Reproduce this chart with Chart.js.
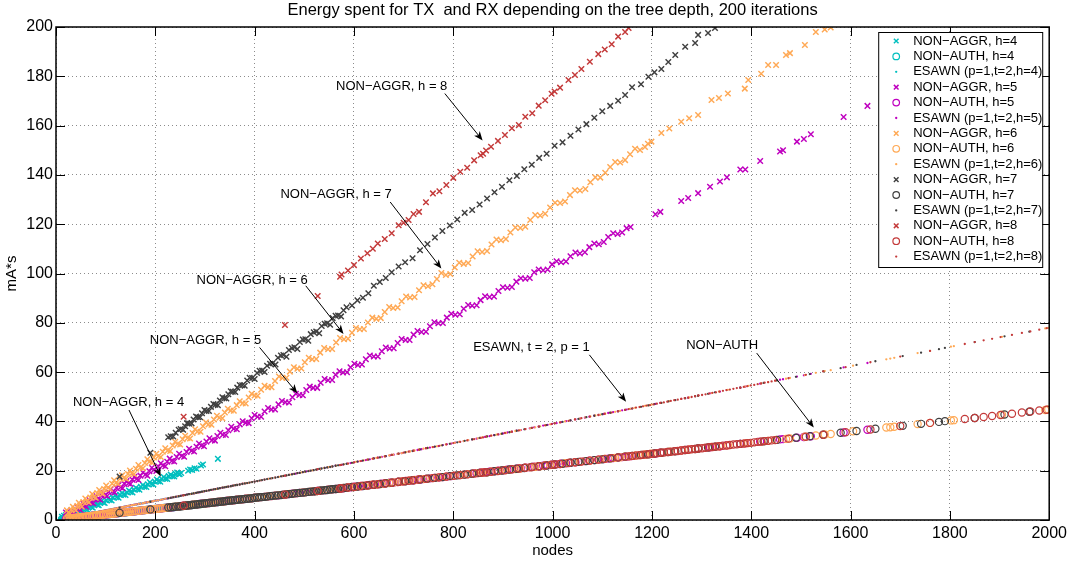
<!DOCTYPE html>
<html>
<head>
<meta charset="utf-8">
<title>Energy per tree depth</title>
<script src="https://cdn.jsdelivr.net/npm/chart.js@4.4.1/dist/chart.umd.min.js"></script>
<style>
  html, body { margin: 0; padding: 0; background: #fff; }
  #energy { display: block; }
</style>
</head>
<body>
<canvas id="energy" width="1071" height="562"></canvas>
<script>
// node counts per run, and energy (mA*s) for the three schemes, one block per tree depth h
// NON-AGGR runs above 200 mA*s fall outside the axes and are kept as null

const nodes4 = [12, 14, 16, 18, 20, 23, 26, 29, 32, 34,
  36, 38, 40, 42, 44, 46, 48, 50, 53, 55,
  58, 60, 63, 65, 68, 71, 74, 77, 80, 83,
  86, 89, 92, 95, 98, 101, 105, 108, 112, 115,
  119, 122, 126, 129, 133, 136, 140, 143, 147, 150,
  154, 157, 161, 164, 168, 171, 175, 178, 182, 185,
  189, 192, 196, 199, 203, 206, 210, 213, 217, 220,
  224, 227, 231, 234, 238, 241, 244, 247, 249, 252,
  266, 270, 274, 279, 283, 292, 296, 326];
const nonAggr4 = [1.3, 0.6, 1.7, 0.9, 2.0, 1.2, 2.5, 1.7, 3.0, 2.5,
  2.2, 3.1, 3.6, 3.1, 2.8, 3.7, 4.3, 3.7, 3.5, 4.4,
  5.0, 4.4, 4.2, 5.2, 5.9, 5.3, 5.0, 6.1, 6.8, 6.2,
  6.0, 7.0, 7.8, 7.1, 6.9, 8.0, 8.8, 8.1, 7.9, 9.1,
  9.9, 9.2, 9.0, 10.2, 11.0, 10.3, 10.1, 11.3, 12.0, 11.4,
  11.2, 12.4, 13.1, 12.5, 12.3, 13.5, 14.2, 13.5, 13.4, 14.5,
  15.3, 14.6, 14.4, 15.6, 16.4, 15.7, 15.5, 16.7, 17.4, 16.7,
  16.6, 17.8, 18.4, 17.8, 17.7, 18.8, 19.3, 18.7, 18.6, 19.1,
  20.0, 20.5, 20.3, 21.0, 20.8, 22.1, 22.5, 24.8];
const nonAuth4 = [0.3, 0.3, 0.4, 0.4, 0.4, 0.5, 0.6, 0.6, 0.7, 0.8,
  0.8, 0.9, 0.9, 0.9, 1.0, 1.0, 1.1, 1.1, 1.2, 1.2,
  1.3, 1.3, 1.4, 1.5, 1.5, 1.6, 1.7, 1.7, 1.8, 1.9,
  1.9, 2.0, 2.1, 2.1, 2.2, 2.3, 2.4, 2.4, 2.5, 2.6,
  2.7, 2.7, 2.8, 2.9, 3.0, 3.0, 3.1, 3.2, 3.3, 3.4,
  3.4, 3.5, 3.6, 3.7, 3.8, 3.8, 3.9, 4.0, 4.1, 4.1,
  4.2, 4.3, 4.4, 4.5, 4.5, 4.6, 4.7, 4.8, 4.9, 4.9,
  5.0, 5.1, 5.2, 5.2, 5.3, 5.4, 5.5, 5.5, 5.6, 5.6,
  6.0, 6.0, 6.1, 6.2, 6.3, 6.5, 6.6, 7.3];
const esawn4 = [0.5, 0.5, 0.6, 0.7, 0.8, 0.9, 1.0, 1.1, 1.2, 1.3,
  1.4, 1.5, 1.6, 1.6, 1.7, 1.8, 1.9, 2.0, 2.1, 2.1,
  2.3, 2.3, 2.5, 2.5, 2.7, 2.8, 2.9, 3.0, 3.1, 3.2,
  3.4, 3.5, 3.6, 3.7, 3.8, 3.9, 4.1, 4.2, 4.4, 4.5,
  4.6, 4.8, 4.9, 5.0, 5.2, 5.3, 5.5, 5.6, 5.7, 5.9,
  6.0, 6.1, 6.3, 6.4, 6.6, 6.7, 6.8, 6.9, 7.1, 7.2,
  7.4, 7.5, 7.6, 7.8, 7.9, 8.0, 8.2, 8.3, 8.5, 8.6,
  8.7, 8.9, 9.0, 9.1, 9.3, 9.4, 9.5, 9.6, 9.7, 9.8,
  10.4, 10.5, 10.7, 10.9, 11.0, 11.4, 11.5, 12.7];

const nodes5 = [20, 23, 26, 28, 31, 34, 37, 40, 43, 46,
  49, 52, 55, 58, 61, 64, 68, 71, 75, 78,
  82, 85, 89, 92, 96, 99, 103, 106, 110, 114,
  118, 122, 126, 130, 134, 138, 142, 146, 150, 154,
  158, 162, 166, 170, 175, 180, 184, 188, 193, 197,
  202, 206, 211, 215, 220, 224, 229, 233, 238, 243,
  248, 253, 258, 263, 268, 273, 278, 283, 288, 293,
  298, 303, 309, 314, 320, 325, 331, 336, 342, 347,
  353, 358, 364, 370, 376, 382, 388, 394, 400, 406,
  413, 420, 427, 434, 441, 448, 455, 462, 469, 476,
  483, 490, 497, 504, 511, 518, 526, 533, 541, 548,
  556, 563, 571, 578, 586, 593, 601, 608, 616, 624,
  632, 640, 648, 656, 664, 672, 680, 688, 696, 704,
  712, 720, 728, 736, 745, 753, 762, 770, 779, 787,
  796, 804, 813, 821, 830, 838, 847, 855, 864, 873,
  882, 891, 900, 909, 918, 927, 936, 945, 954, 963,
  972, 981, 990, 999, 1008, 1017, 1027, 1036, 1046, 1055,
  1065, 1074, 1084, 1093, 1103, 1112, 1122, 1131, 1140, 1149,
  1157, 1207, 1217, 1259, 1273, 1293, 1317, 1337, 1351, 1378,
  1388, 1418, 1458, 1464, 1492, 1506, 1520, 1586, 1634];
const nonAggr5 = [3.0, 2.2, 1.9, 3.3, 3.9, 3.2, 2.8, 4.4, 5.4, 4.6,
  4.1, 5.7, 6.6, 5.8, 5.4, 7.0, 8.0, 7.1, 6.8, 8.4,
  9.6, 8.6, 8.2, 9.9, 11.0, 10.1, 9.7, 11.4, 12.5, 11.6,
  11.2, 13.0, 14.2, 13.3, 12.9, 14.6, 15.8, 14.9, 14.6, 16.3,
  17.5, 16.6, 16.2, 18.0, 19.3, 18.5, 18.0, 19.8, 21.2, 20.3,
  19.9, 21.7, 23.0, 22.1, 21.8, 23.6, 24.9, 23.9, 23.7, 25.6,
  26.9, 26.0, 25.7, 27.6, 28.9, 28.1, 27.8, 29.7, 31.0, 30.2,
  29.9, 31.8, 33.2, 32.4, 32.2, 34.1, 35.4, 34.6, 34.5, 36.4,
  37.8, 37.0, 36.8, 38.8, 40.1, 39.5, 39.3, 41.3, 42.6, 41.9,
  41.9, 44.0, 45.4, 44.8, 44.8, 46.9, 48.3, 47.8, 47.7, 49.8,
  51.2, 50.7, 50.6, 52.7, 54.1, 53.6, 53.6, 55.7, 57.2, 56.7,
  56.8, 58.9, 60.3, 59.8, 59.9, 62.0, 63.4, 62.9, 63.1, 65.2,
  66.7, 66.3, 66.3, 68.5, 70.0, 69.6, 69.7, 71.8, 73.4, 73.0,
  73.0, 75.2, 76.7, 76.3, 76.4, 78.6, 80.2, 79.8, 79.9, 82.1,
  83.7, 83.3, 83.5, 85.7, 87.2, 86.9, 87.1, 89.2, 90.8, 90.5,
  90.7, 92.9, 94.4, 94.2, 94.5, 96.7, 98.1, 97.9, 98.2, 100.5,
  101.6, 101.3, 101.6, 103.7, 105.0, 104.6, 104.9, 107.0, 108.5, 108.1,
  108.6, 110.7, 112.2, 111.9, 112.8, 114.8, 116.3, 116.0, 116.6, 118.4,
  118.9, 124.0, 125.0, 129.4, 130.6, 132.6, 135.2, 137.3, 139.0, 142.2,
  142.2, 145.6, 149.5, 150.0, 153.5, 154.6, 156.5, 163.5, 168.0];
const nonAuth5 = [0.4, 0.5, 0.6, 0.6, 0.7, 0.8, 0.8, 0.9, 1.0, 1.0,
  1.1, 1.2, 1.2, 1.3, 1.4, 1.4, 1.5, 1.6, 1.7, 1.7,
  1.8, 1.9, 2.0, 2.1, 2.2, 2.2, 2.3, 2.4, 2.5, 2.6,
  2.6, 2.7, 2.8, 2.9, 3.0, 3.1, 3.2, 3.3, 3.4, 3.4,
  3.5, 3.6, 3.7, 3.8, 3.9, 4.0, 4.1, 4.2, 4.3, 4.4,
  4.5, 4.6, 4.7, 4.8, 4.9, 5.0, 5.1, 5.2, 5.3, 5.4,
  5.6, 5.7, 5.8, 5.9, 6.0, 6.1, 6.2, 6.3, 6.5, 6.6,
  6.7, 6.8, 6.9, 7.0, 7.2, 7.3, 7.4, 7.5, 7.7, 7.8,
  7.9, 8.0, 8.2, 8.3, 8.4, 8.6, 8.7, 8.8, 9.0, 9.1,
  9.3, 9.4, 9.6, 9.7, 9.9, 10.0, 10.2, 10.3, 10.5, 10.7,
  10.8, 11.0, 11.1, 11.3, 11.4, 11.6, 11.8, 11.9, 12.1, 12.3,
  12.5, 12.6, 12.8, 12.9, 13.1, 13.3, 13.5, 13.6, 13.8, 14.0,
  14.2, 14.3, 14.5, 14.7, 14.9, 15.1, 15.2, 15.4, 15.6, 15.8,
  15.9, 16.1, 16.3, 16.5, 16.7, 16.9, 17.1, 17.2, 17.4, 17.6,
  17.8, 18.0, 18.2, 18.4, 18.6, 18.8, 19.0, 19.2, 19.4, 19.6,
  19.8, 20.0, 20.2, 20.4, 20.6, 20.8, 21.0, 21.2, 21.4, 21.6,
  21.8, 22.0, 22.2, 22.4, 22.6, 22.8, 23.0, 23.2, 23.4, 23.6,
  23.9, 24.1, 24.3, 24.5, 24.7, 24.9, 25.1, 25.3, 25.5, 25.7,
  25.9, 27.0, 27.3, 28.2, 28.5, 29.0, 29.5, 29.9, 30.3, 30.9,
  31.1, 31.8, 32.7, 32.8, 33.4, 33.7, 34.0, 35.5, 36.6];
const esawn5 = [0.8, 0.9, 1.0, 1.1, 1.2, 1.3, 1.4, 1.6, 1.7, 1.8,
  1.9, 2.0, 2.1, 2.3, 2.4, 2.5, 2.7, 2.8, 2.9, 3.0,
  3.2, 3.3, 3.5, 3.6, 3.7, 3.9, 4.0, 4.1, 4.3, 4.4,
  4.6, 4.8, 4.9, 5.1, 5.2, 5.4, 5.5, 5.7, 5.9, 6.0,
  6.2, 6.3, 6.5, 6.6, 6.8, 7.0, 7.2, 7.3, 7.5, 7.7,
  7.9, 8.0, 8.2, 8.4, 8.6, 8.7, 8.9, 9.1, 9.3, 9.5,
  9.7, 9.9, 10.1, 10.3, 10.5, 10.6, 10.8, 11.0, 11.2, 11.4,
  11.6, 11.8, 12.1, 12.2, 12.5, 12.7, 12.9, 13.1, 13.3, 13.5,
  13.8, 14.0, 14.2, 14.4, 14.7, 14.9, 15.1, 15.4, 15.6, 15.8,
  16.1, 16.4, 16.7, 16.9, 17.2, 17.5, 17.7, 18.0, 18.3, 18.6,
  18.8, 19.1, 19.4, 19.7, 19.9, 20.2, 20.5, 20.8, 21.1, 21.4,
  21.7, 22.0, 22.3, 22.5, 22.9, 23.1, 23.4, 23.7, 24.0, 24.3,
  24.6, 25.0, 25.3, 25.6, 25.9, 26.2, 26.5, 26.8, 27.1, 27.5,
  27.8, 28.1, 28.4, 28.7, 29.1, 29.4, 29.7, 30.0, 30.4, 30.7,
  31.0, 31.4, 31.7, 32.0, 32.4, 32.7, 33.0, 33.3, 33.7, 34.0,
  34.4, 34.7, 35.1, 35.5, 35.8, 36.2, 36.5, 36.9, 37.2, 37.6,
  37.9, 38.3, 38.6, 39.0, 39.3, 39.7, 40.1, 40.4, 40.8, 41.1,
  41.5, 41.9, 42.3, 42.6, 43.0, 43.4, 43.8, 44.1, 44.5, 44.8,
  45.1, 47.1, 47.5, 49.1, 49.6, 50.4, 51.4, 52.1, 52.7, 53.7,
  54.1, 55.3, 56.9, 57.1, 58.2, 58.7, 59.3, 61.9, 63.7];

const nodes6 = [22, 25, 28, 31, 34, 37, 40, 43, 46, 49,
  52, 55, 59, 62, 66, 69, 73, 76, 80, 83,
  87, 90, 94, 97, 101, 105, 109, 113, 117, 121,
  125, 129, 133, 137, 141, 145, 149, 153, 157, 161,
  166, 170, 175, 179, 184, 188, 193, 197, 202, 206,
  211, 215, 220, 225, 230, 235, 240, 245, 250, 255,
  260, 265, 270, 275, 280, 285, 291, 296, 302, 307,
  313, 318, 324, 329, 335, 340, 346, 352, 358, 364,
  370, 376, 382, 388, 394, 400, 406, 413, 420, 427,
  434, 441, 449, 456, 464, 471, 479, 486, 494, 501,
  509, 516, 524, 532, 540, 548, 556, 564, 572, 580,
  588, 596, 604, 612, 620, 628, 637, 645, 654, 662,
  671, 679, 688, 696, 705, 713, 722, 731, 740, 749,
  758, 767, 776, 785, 794, 803, 812, 821, 830, 839,
  849, 858, 868, 877, 887, 896, 906, 915, 925, 935,
  945, 955, 965, 975, 985, 995, 1005, 1015, 1025, 1035,
  1045, 1055, 1066, 1076, 1086, 1096, 1106, 1116, 1126, 1136,
  1146, 1156, 1166, 1176, 1186, 1192, 1199, 1219, 1235, 1259,
  1275, 1293, 1320, 1335, 1353, 1387, 1394, 1420, 1434, 1450,
  1470, 1478, 1508, 1530, 1548, 1560, 1605, 1672, 1680, 1688,
  1735, 1760, 1802, 1808, 1905, 1992, 1998];
const nonAggr6 = [3.9, 3.0, 2.5, 4.2, 5.4, 4.5, 4.0, 5.7, 7.0, 6.0,
  5.4, 7.3, 8.7, 7.6, 7.2, 9.1, 10.5, 9.4, 9.0, 10.9,
  12.2, 11.2, 10.7, 12.6, 14.0, 13.1, 12.6, 14.7, 16.1, 15.1,
  14.7, 16.7, 18.1, 17.1, 16.7, 18.7, 20.1, 19.1, 18.7, 20.8,
  22.3, 21.3, 21.0, 23.1, 24.6, 23.6, 23.3, 25.4, 26.9, 25.9,
  25.6, 27.7, 29.1, 28.2, 28.0, 30.2, 31.7, 30.8, 30.6, 32.8,
  34.2, 33.3, 33.1, 35.3, 36.8, 35.9, 35.8, 38.0, 39.6, 38.7,
  38.6, 40.8, 42.3, 41.5, 41.3, 43.6, 45.1, 44.4, 44.3, 46.6,
  48.2, 47.4, 47.3, 49.7, 51.2, 50.5, 50.4, 52.8, 54.5, 53.9,
  53.9, 56.4, 58.2, 57.6, 57.7, 60.2, 62.0, 61.4, 61.5, 64.0,
  65.8, 65.2, 65.3, 67.9, 69.8, 69.3, 69.4, 72.0, 73.8, 73.3,
  73.5, 76.0, 77.9, 77.4, 77.5, 80.1, 82.1, 81.6, 81.9, 84.4,
  86.4, 86.0, 86.2, 88.7, 90.7, 90.3, 90.5, 93.2, 95.2, 94.8,
  95.6, 97.8, 100.2, 99.4, 99.8, 102.4, 104.4, 103.9, 104.3, 106.9,
  109.0, 108.7, 109.1, 111.8, 113.8, 113.5, 114.0, 116.6, 118.7, 118.5,
  119.0, 121.7, 123.7, 123.5, 124.2, 126.8, 128.7, 128.6, 129.2, 131.8,
  133.8, 133.7, 134.3, 137.0, 139.0, 138.9, 140.9, 143.2, 145.2, 145.0,
  146.0, 148.4, 150.6, 150.1, 151.3, 152.6, 153.5, 157.0, 158.8, 161.6,
  163.0, 164.3, 170.4, 171.2, 173.0, 175.0, 178.5, 181.0, 184.6, 184.6,
  188.6, 189.4, 192.7, 198.0, 199.0, 199.8, null, null, null, null,
  null, null, null, null, null, null, null];
const nonAuth6 = [0.5, 0.6, 0.6, 0.7, 0.8, 0.8, 0.9, 1.0, 1.0, 1.1,
  1.2, 1.2, 1.3, 1.4, 1.5, 1.5, 1.6, 1.7, 1.8, 1.9,
  1.9, 2.0, 2.1, 2.2, 2.3, 2.4, 2.4, 2.5, 2.6, 2.7,
  2.8, 2.9, 3.0, 3.1, 3.2, 3.2, 3.3, 3.4, 3.5, 3.6,
  3.7, 3.8, 3.9, 4.0, 4.1, 4.2, 4.3, 4.4, 4.5, 4.6,
  4.7, 4.8, 4.9, 5.0, 5.2, 5.3, 5.4, 5.5, 5.6, 5.7,
  5.8, 5.9, 6.0, 6.2, 6.3, 6.4, 6.5, 6.6, 6.8, 6.9,
  7.0, 7.1, 7.3, 7.4, 7.5, 7.6, 7.8, 7.9, 8.0, 8.2,
  8.3, 8.4, 8.6, 8.7, 8.8, 9.0, 9.1, 9.3, 9.4, 9.6,
  9.7, 9.9, 10.1, 10.2, 10.4, 10.6, 10.7, 10.9, 11.1, 11.2,
  11.4, 11.6, 11.7, 11.9, 12.1, 12.3, 12.5, 12.6, 12.8, 13.0,
  13.2, 13.4, 13.5, 13.7, 13.9, 14.1, 14.3, 14.4, 14.6, 14.8,
  15.0, 15.2, 15.4, 15.6, 15.8, 16.0, 16.2, 16.4, 16.6, 16.8,
  17.0, 17.2, 17.4, 17.6, 17.8, 18.0, 18.2, 18.4, 18.6, 18.8,
  19.0, 19.2, 19.4, 19.6, 19.9, 20.1, 20.3, 20.5, 20.7, 20.9,
  21.2, 21.4, 21.6, 21.8, 22.1, 22.3, 22.5, 22.7, 23.0, 23.2,
  23.4, 23.6, 23.9, 24.1, 24.3, 24.6, 24.8, 25.0, 25.2, 25.4,
  25.7, 25.9, 26.1, 26.3, 26.6, 26.7, 26.9, 27.3, 27.7, 28.2,
  28.6, 29.0, 29.6, 29.9, 30.3, 31.1, 31.2, 31.8, 32.1, 32.5,
  32.9, 33.1, 33.8, 34.3, 34.7, 34.9, 36.0, 37.5, 37.6, 37.8,
  38.9, 39.4, 40.4, 40.5, 42.7, 44.6, 44.8];
const esawn6 = [0.9, 1.0, 1.1, 1.2, 1.3, 1.4, 1.6, 1.7, 1.8, 1.9,
  2.0, 2.1, 2.3, 2.4, 2.6, 2.7, 2.8, 3.0, 3.1, 3.2,
  3.4, 3.5, 3.7, 3.8, 3.9, 4.1, 4.3, 4.4, 4.6, 4.7,
  4.9, 5.0, 5.2, 5.3, 5.5, 5.7, 5.8, 6.0, 6.1, 6.3,
  6.5, 6.6, 6.8, 7.0, 7.2, 7.3, 7.5, 7.7, 7.9, 8.0,
  8.2, 8.4, 8.6, 8.8, 9.0, 9.2, 9.4, 9.6, 9.8, 9.9,
  10.1, 10.3, 10.5, 10.7, 10.9, 11.1, 11.3, 11.5, 11.8, 12.0,
  12.2, 12.4, 12.6, 12.8, 13.1, 13.3, 13.5, 13.7, 14.0, 14.2,
  14.4, 14.7, 14.9, 15.1, 15.4, 15.6, 15.8, 16.1, 16.4, 16.7,
  16.9, 17.2, 17.5, 17.8, 18.1, 18.4, 18.7, 19.0, 19.3, 19.5,
  19.9, 20.1, 20.4, 20.7, 21.1, 21.4, 21.7, 22.0, 22.3, 22.6,
  22.9, 23.2, 23.6, 23.9, 24.2, 24.5, 24.8, 25.2, 25.5, 25.8,
  26.2, 26.5, 26.8, 27.1, 27.5, 27.8, 28.2, 28.5, 28.9, 29.2,
  29.6, 29.9, 30.3, 30.6, 31.0, 31.3, 31.7, 32.0, 32.4, 32.7,
  33.1, 33.5, 33.9, 34.2, 34.6, 34.9, 35.3, 35.7, 36.1, 36.5,
  36.9, 37.2, 37.6, 38.0, 38.4, 38.8, 39.2, 39.6, 40.0, 40.4,
  40.8, 41.1, 41.6, 42.0, 42.4, 42.7, 43.1, 43.5, 43.9, 44.3,
  44.7, 45.1, 45.5, 45.9, 46.3, 46.5, 46.8, 47.5, 48.2, 49.1,
  49.7, 50.4, 51.5, 52.1, 52.8, 54.1, 54.4, 55.4, 55.9, 56.6,
  57.3, 57.6, 58.8, 59.7, 60.4, 60.8, 62.6, 65.2, 65.5, 65.8,
  67.7, 68.6, 70.3, 70.5, 74.3, 77.7, 77.9];

const nodes7 = [128, 190, 226, 231, 236, 241, 247, 251, 256, 260,
  264, 268, 273, 277, 282, 286, 290, 294, 299, 303,
  308, 312, 317, 321, 326, 330, 335, 339, 343, 347,
  352, 356, 361, 365, 370, 375, 380, 385, 390, 395,
  400, 405, 410, 415, 420, 425, 431, 436, 442, 447,
  453, 458, 464, 469, 475, 480, 486, 491, 497, 502,
  508, 513, 519, 524, 530, 535, 541, 546, 552, 557,
  563, 568, 574, 579, 585, 596, 607, 618, 629, 640,
  652, 664, 676, 690, 703, 718, 733, 748, 763, 778,
  793, 808, 823, 838, 853, 868, 883, 898, 913, 928,
  943, 958, 973, 988, 1004, 1020, 1036, 1052, 1068, 1084,
  1100, 1116, 1132, 1146, 1160, 1178, 1193, 1205, 1219, 1233,
  1247, 1267, 1287, 1293, 1313, 1327, 1378, 1425, 1452, 1490,
  1518, 1545, 1580, 1612, 1650, 1705, 1742, 1778, 1790, 1850,
  1910, 1960];
const nonAggr7 = [17.6, 27.3, 33.6, 34.0, 33.9, 35.4, 36.6, 36.9, 36.6, 38.0,
  39.3, 39.1, 39.2, 40.8, 42.0, 41.7, 41.7, 43.3, 44.6, 44.2,
  44.2, 45.9, 47.1, 46.8, 46.6, 48.5, 49.8, 49.4, 49.3, 51.0,
  52.2, 52.0, 51.9, 53.7, 54.8, 54.7, 54.5, 56.6, 57.7, 57.6,
  57.2, 59.6, 60.5, 60.6, 60.0, 62.6, 63.4, 63.6, 63.1, 65.8,
  66.7, 66.9, 66.2, 69.0, 69.8, 70.1, 69.4, 72.2, 73.2, 73.3,
  72.7, 75.4, 76.2, 76.5, 75.8, 78.7, 79.6, 79.8, 79.2, 81.9,
  82.9, 83.0, 82.6, 85.1, 86.3, 87.0, 89.1, 90.2, 92.0, 95.0,
  96.6, 98.2, 100.5, 102.8, 104.6, 106.2, 109.4, 112.0, 114.6, 117.2,
  119.5, 121.9, 124.6, 125.8, 128.0, 130.4, 133.0, 135.2, 137.8, 139.6,
  142.3, 144.1, 146.9, 148.6, 151.8, 153.2, 155.9, 158.4, 160.6, 163.2,
  165.8, 168.0, 170.1, 172.4, 175.6, 176.8, 179.8, 181.6, 183.0, 185.8,
  188.6, 192.0, 193.5, 196.8, 197.6, 199.6, null, null, null, null,
  null, null, null, null, null, null, null, null, null, null,
  null, null];
const nonAuth7 = [2.9, 4.3, 5.1, 5.2, 5.3, 5.4, 5.5, 5.6, 5.7, 5.8,
  5.9, 6.0, 6.1, 6.2, 6.3, 6.4, 6.5, 6.6, 6.7, 6.8,
  6.9, 7.0, 7.1, 7.2, 7.3, 7.4, 7.5, 7.6, 7.7, 7.8,
  7.9, 8.0, 8.1, 8.2, 8.3, 8.4, 8.5, 8.6, 8.7, 8.8,
  9.0, 9.1, 9.2, 9.3, 9.4, 9.5, 9.7, 9.8, 9.9, 10.0,
  10.1, 10.3, 10.4, 10.5, 10.6, 10.8, 10.9, 11.0, 11.1, 11.2,
  11.4, 11.5, 11.6, 11.7, 11.9, 12.0, 12.1, 12.2, 12.4, 12.5,
  12.6, 12.7, 12.9, 13.0, 13.1, 13.4, 13.6, 13.8, 14.1, 14.3,
  14.6, 14.9, 15.1, 15.5, 15.7, 16.1, 16.4, 16.8, 17.1, 17.4,
  17.8, 18.1, 18.4, 18.8, 19.1, 19.4, 19.8, 20.1, 20.5, 20.8,
  21.1, 21.5, 21.8, 22.1, 22.5, 22.8, 23.2, 23.6, 23.9, 24.3,
  24.6, 25.0, 25.4, 25.7, 26.0, 26.4, 26.7, 27.0, 27.3, 27.6,
  27.9, 28.4, 28.8, 29.0, 29.4, 29.7, 30.9, 31.9, 32.5, 33.4,
  34.0, 34.6, 35.4, 36.1, 37.0, 38.2, 39.0, 39.8, 40.1, 41.4,
  42.8, 43.9];
const esawn7 = [5.0, 7.4, 8.8, 9.0, 9.2, 9.4, 9.6, 9.8, 10.0, 10.1,
  10.3, 10.5, 10.6, 10.8, 11.0, 11.2, 11.3, 11.5, 11.7, 11.8,
  12.0, 12.2, 12.4, 12.5, 12.7, 12.9, 13.1, 13.2, 13.4, 13.5,
  13.7, 13.9, 14.1, 14.2, 14.4, 14.6, 14.8, 15.0, 15.2, 15.4,
  15.6, 15.8, 16.0, 16.2, 16.4, 16.6, 16.8, 17.0, 17.2, 17.4,
  17.7, 17.9, 18.1, 18.3, 18.5, 18.7, 19.0, 19.1, 19.4, 19.6,
  19.8, 20.0, 20.2, 20.4, 20.7, 20.9, 21.1, 21.3, 21.5, 21.7,
  22.0, 22.2, 22.4, 22.6, 22.8, 23.2, 23.7, 24.1, 24.5, 25.0,
  25.4, 25.9, 26.4, 26.9, 27.4, 28.0, 28.6, 29.2, 29.8, 30.3,
  30.9, 31.5, 32.1, 32.7, 33.3, 33.9, 34.4, 35.0, 35.6, 36.2,
  36.8, 37.4, 37.9, 38.5, 39.2, 39.8, 40.4, 41.0, 41.7, 42.3,
  42.9, 43.5, 44.1, 44.7, 45.2, 45.9, 46.5, 47.0, 47.5, 48.1,
  48.6, 49.4, 50.2, 50.4, 51.2, 51.8, 53.7, 55.6, 56.6, 58.1,
  59.2, 60.3, 61.6, 62.9, 64.4, 66.5, 67.9, 69.3, 69.8, 72.2,
  74.5, 76.4];

const nodes8 = [257, 461, 527, 572, 575, 588, 600, 614, 627, 638,
  648, 662, 676, 690, 700, 710, 720, 731, 745, 759,
  772, 786, 800, 814, 828, 842, 855, 860, 866, 876,
  890, 904, 918, 932, 945, 959, 972, 985, 998, 1004,
  1015, 1032, 1045, 1058, 1075, 1092, 1105, 1119, 1132, 1146,
  1153, 1161, 1168, 1175, 1182, 1189, 1196, 1203, 1210, 1217,
  1224, 1231, 1238, 1245, 1252, 1259, 1266, 1273, 1280, 1287,
  1294, 1301, 1308, 1315, 1322, 1329, 1336, 1343, 1350, 1357,
  1364, 1371, 1378, 1385, 1392, 1399, 1406, 1413, 1420, 1427,
  1434, 1441, 1448, 1475, 1510, 1545, 1590, 1640, 1700, 1760,
  1830, 1850, 1868, 1885, 1902, 1925, 1945, 1962, 1980, 1995];
const nonAggr8 = [41.9, 79.1, 90.9, 98.7, 99.6, 101.2, 103.4, 106.1, 108.2, 110.0,
  112.2, 114.0, 116.3, 119.6, 120.6, 121.7, 124.1, 125.0, 128.9, 132.5,
  133.4, 135.9, 138.8, 141.3, 142.9, 145.9, 148.0, 148.6, 149.9, 151.4,
  153.8, 156.2, 158.9, 160.2, 163.6, 165.0, 168.1, 170.3, 172.9, 173.8,
  175.4, 178.5, 180.5, 183.0, 185.9, 189.0, 190.9, 193.0, 196.1, 198.0,
  199.6, null, null, null, null, null, null, null, null, null,
  null, null, null, null, null, null, null, null, null, null,
  null, null, null, null, null, null, null, null, null, null,
  null, null, null, null, null, null, null, null, null, null,
  null, null, null, null, null, null, null, null, null, null,
  null, null, null, null, null, null, null, null, null, null];
const nonAuth8 = [5.8, 10.3, 11.8, 12.8, 12.9, 13.2, 13.4, 13.8, 14.0, 14.3,
  14.5, 14.8, 15.1, 15.5, 15.7, 15.9, 16.1, 16.4, 16.7, 17.0,
  17.3, 17.6, 17.9, 18.2, 18.5, 18.9, 19.2, 19.3, 19.4, 19.6,
  19.9, 20.2, 20.6, 20.9, 21.2, 21.5, 21.8, 22.1, 22.4, 22.5,
  22.7, 23.1, 23.4, 23.7, 24.1, 24.5, 24.8, 25.1, 25.4, 25.7,
  25.8, 26.0, 26.2, 26.3, 26.5, 26.6, 26.8, 26.9, 27.1, 27.3,
  27.4, 27.6, 27.7, 27.9, 28.0, 28.2, 28.4, 28.5, 28.7, 28.8,
  29.0, 29.1, 29.3, 29.5, 29.6, 29.8, 29.9, 30.1, 30.2, 30.4,
  30.6, 30.7, 30.9, 31.0, 31.2, 31.3, 31.5, 31.7, 31.8, 32.0,
  32.1, 32.3, 32.4, 33.0, 33.8, 34.6, 35.6, 36.7, 38.1, 39.4,
  41.0, 41.4, 41.8, 42.2, 42.6, 43.1, 43.6, 44.0, 44.4, 44.7];
const esawn8 = [10.0, 18.0, 20.6, 22.3, 22.4, 22.9, 23.4, 23.9, 24.5, 24.9,
  25.3, 25.8, 26.4, 26.9, 27.3, 27.7, 28.1, 28.5, 29.1, 29.6,
  30.1, 30.7, 31.2, 31.7, 32.3, 32.8, 33.3, 33.5, 33.8, 34.2,
  34.7, 35.3, 35.8, 36.3, 36.9, 37.4, 37.9, 38.4, 38.9, 39.2,
  39.6, 40.2, 40.8, 41.3, 41.9, 42.6, 43.1, 43.6, 44.1, 44.7,
  45.0, 45.3, 45.6, 45.8, 46.1, 46.4, 46.6, 46.9, 47.2, 47.5,
  47.7, 48.0, 48.3, 48.6, 48.8, 49.1, 49.4, 49.6, 49.9, 50.2,
  50.5, 50.7, 51.0, 51.3, 51.6, 51.8, 52.1, 52.4, 52.7, 52.9,
  53.2, 53.5, 53.7, 54.0, 54.3, 54.6, 54.8, 55.1, 55.4, 55.7,
  55.9, 56.2, 56.5, 57.5, 58.9, 60.3, 62.0, 64.0, 66.3, 68.6,
  71.4, 72.2, 72.9, 73.5, 74.2, 75.1, 75.9, 76.5, 77.2, 77.8];

const xTicks = { min: 0, max: 2000, step: 200 };
const yTicks = { min: 0, max: 200, step: 20 };

const TITLE = 'Energy spent for TX  and RX depending on the tree depth, 200 iterations';
const FONT = "'Liberation Sans', Arial, Helvetica, sans-serif";

// text labels with arrows, placed in data units (nodes, mA*s)
const callouts = [
  { text: 'NON\u2212AGGR, h = 8', at: [564, 176], from: [783, 173], to: [859, 154] },
  { text: 'NON\u2212AGGR, h = 7', at: [452, 132], from: [673, 129], to: [776, 102] },
  { text: 'NON\u2212AGGR, h = 6', at: [283, 97], from: [503, 95], to: [579, 75.5] },
  { text: 'NON\u2212AGGR, h = 5', at: [189, 73], from: [410, 70], to: [486, 51.4] },
  { text: 'NON\u2212AGGR, h = 4', at: [34, 47.6], from: [147, 44.6], to: [211, 17.6] },
  { text: 'ESAWN, t = 2, p = 1', at: [840, 70], from: [1074, 67], to: [1148, 48] },
  { text: 'NON\u2212AUTH', at: [1269, 71], from: [1411, 67.7], to: [1526, 37.5] }
];

const depths = [
  { h: 4, color: '#00BFBF', nodes: nodes4, aggr: nonAggr4, auth: nonAuth4, esawn: esawn4 },
  { h: 5, color: '#BF00BF', nodes: nodes5, aggr: nonAggr5, auth: nonAuth5, esawn: esawn5 },
  { h: 6, color: '#FFA955', nodes: nodes6, aggr: nonAggr6, auth: nonAuth6, esawn: esawn6 },
  { h: 7, color: '#404040', nodes: nodes7, aggr: nonAggr7, auth: nonAuth7, esawn: esawn7 },
  { h: 8, color: '#C43A3A', nodes: nodes8, aggr: nonAggr8, auth: nonAuth8, esawn: esawn8 }
];

function pairs(xs, ys) {
  const out = [];
  xs.forEach((x, i) => {
    if (ys[i] !== null && ys[i] !== undefined) out.push({ x, y: ys[i] });
  });
  return out;
}

const datasets = [];
depths.forEach(d => {
  datasets.push({
    label: `NON\u2212AGGR, h=${d.h}`, data: pairs(d.nodes, d.aggr),
    pointStyle: 'crossRot', pointRadius: 3.9, pointBorderWidth: 1.45,
    pointBorderColor: d.color, pointBackgroundColor: d.color
  });
  datasets.push({
    label: `NON\u2212AUTH, h=${d.h}`, data: pairs(d.nodes, d.auth),
    pointStyle: 'circle', pointRadius: 3.6, pointBorderWidth: 1.2,
    pointBorderColor: d.color, pointBackgroundColor: 'rgba(0,0,0,0)'
  });
  datasets.push({
    label: `ESAWN (p=1,t=2,h=${d.h})`, data: pairs(d.nodes, d.esawn),
    pointStyle: 'circle', pointRadius: 1.15, pointBorderWidth: 0,
    pointBorderColor: d.color, pointBackgroundColor: d.color
  });
});
// later series paint over earlier ones
datasets.forEach((ds, i) => { ds.order = -i; });

const TICK_LEN = 9;

// axes box with inward ticks on all four sides
const axesBox = {
  id: 'axesBox',
  afterDatasetsDraw(chart) {
    const { ctx, chartArea: a, scales: { x, y } } = chart;
    ctx.save();
    ctx.strokeStyle = '#000';
    ctx.lineWidth = 1;
    ctx.beginPath();
    x.ticks.forEach(t => {
      const px = Math.round(x.getPixelForValue(t.value)) + 0.5;
      ctx.moveTo(px, a.bottom); ctx.lineTo(px, a.bottom - TICK_LEN);
      ctx.moveTo(px, a.top); ctx.lineTo(px, a.top + TICK_LEN);
    });
    y.ticks.forEach(t => {
      const py = Math.round(y.getPixelForValue(t.value)) + 0.5;
      ctx.moveTo(a.left, py); ctx.lineTo(a.left + TICK_LEN, py);
      ctx.moveTo(a.right, py); ctx.lineTo(a.right - TICK_LEN, py);
    });
    ctx.stroke();
    ctx.lineWidth = 1.5;
    ctx.strokeRect(a.left, a.top, a.right - a.left, a.bottom - a.top);
    ctx.restore();
  }
};

function drawArrow(ctx, x1, y1, x2, y2) {
  const ang = Math.atan2(y2 - y1, x2 - x1);
  ctx.beginPath();
  ctx.moveTo(x1, y1);
  ctx.lineTo(x2 - Math.cos(ang) * 5, y2 - Math.sin(ang) * 5);
  ctx.stroke();
  ctx.save();
  ctx.translate(x2, y2);
  ctx.rotate(ang);
  ctx.beginPath();
  ctx.moveTo(0, 0);
  ctx.lineTo(-9, -3.6);
  ctx.lineTo(-6.5, 0);
  ctx.lineTo(-9, 3.6);
  ctx.closePath();
  ctx.fill();
  ctx.restore();
}

const calloutLayer = {
  id: 'callouts',
  afterDatasetsDraw(chart) {
    const { ctx, scales: { x, y } } = chart;
    ctx.save();
    ctx.fillStyle = '#000';
    ctx.strokeStyle = '#000';
    ctx.lineWidth = 1;
    ctx.font = `13px ${FONT}`;
    ctx.textAlign = 'left';
    ctx.textBaseline = 'middle';
    callouts.forEach(c => {
      ctx.fillText(c.text, x.getPixelForValue(c.at[0]), y.getPixelForValue(c.at[1]));
      drawArrow(ctx,
        x.getPixelForValue(c.from[0]), y.getPixelForValue(c.from[1]),
        x.getPixelForValue(c.to[0]), y.getPixelForValue(c.to[1]));
    });
    ctx.restore();
  }
};

// boxed legend inside the top-right corner of the axes, plus the title
const legendBox = {
  id: 'legendBox',
  afterDraw(chart) {
    const { ctx, chartArea: a } = chart;
    const sets = chart.data.datasets;
    const rowH = 15.4;
    const w = 164;
    const left = a.right - 171;
    const top = a.top + 5;
    const h = rowH * sets.length + 4;
    ctx.save();
    ctx.fillStyle = '#fff';
    ctx.fillRect(left, top, w, h);
    ctx.strokeStyle = '#000';
    ctx.lineWidth = 1;
    ctx.strokeRect(left + 0.5, top + 0.5, w, h);
    ctx.font = `13px ${FONT}`;
    ctx.textBaseline = 'middle';
    ctx.textAlign = 'left';
    sets.forEach((ds, i) => {
      const cy = top + 9 + i * rowH;
      ctx.strokeStyle = ds.pointBorderColor;
      ctx.fillStyle = ds.pointBackgroundColor;
      ctx.lineWidth = ds.pointBorderWidth || 1;
      Chart.helpers.drawPoint(ctx, {
        pointStyle: ds.pointStyle, rotation: 0,
        radius: Math.min(ds.pointRadius, 3.3), borderWidth: ds.pointBorderWidth
      }, left + 18, cy);
      ctx.fillStyle = '#000';
      ctx.fillText(ds.label, left + 35, cy);
    });
    ctx.font = `16.5px ${FONT}`;
    ctx.textAlign = 'center';
    ctx.fillText(TITLE, (a.left + a.right) / 2, a.top - 17);
    ctx.restore();
  }
};

const tickFont = { family: FONT, size: 16 };
const axisFont = { family: FONT, size: 15 };
const plain = v => String(v);

new Chart(document.getElementById('energy'), {
  type: 'scatter',
  data: { datasets },
  options: {
    responsive: false,
    animation: false,
    events: [],
    layout: { padding: { top: 27, right: 19, left: 0, bottom: 0 } },
    plugins: {
      legend: { display: false },
      tooltip: { enabled: false },
      title: { display: false }
    },
    scales: {
      x: {
        type: 'linear', min: xTicks.min, max: xTicks.max,
        afterFit(scale) { scale.height = 42; },
        ticks: { stepSize: xTicks.step, color: '#000', font: tickFont, padding: 4, maxRotation: 0, callback: plain },
        grid: { color: '#8c8c8c', lineWidth: 1, drawTicks: false },
        border: { display: false, dash: [1, 3] },
        title: { display: true, text: 'nodes', color: '#000', font: axisFont, padding: { top: 0, bottom: 2 } }
      },
      y: {
        type: 'linear', min: yTicks.min, max: yTicks.max,
        afterFit(scale) { scale.width = 56; },
        ticks: { stepSize: yTicks.step, color: '#000', font: tickFont, padding: 3, callback: plain },
        grid: { color: '#8c8c8c', lineWidth: 1, drawTicks: false },
        border: { display: false, dash: [1, 3] },
        title: { display: true, text: 'mA*s', color: '#000', font: axisFont, padding: { top: 3, bottom: 2 } }
      }
    }
  },
  plugins: [axesBox, calloutLayer, legendBox]
});
</script>
</body>
</html>
